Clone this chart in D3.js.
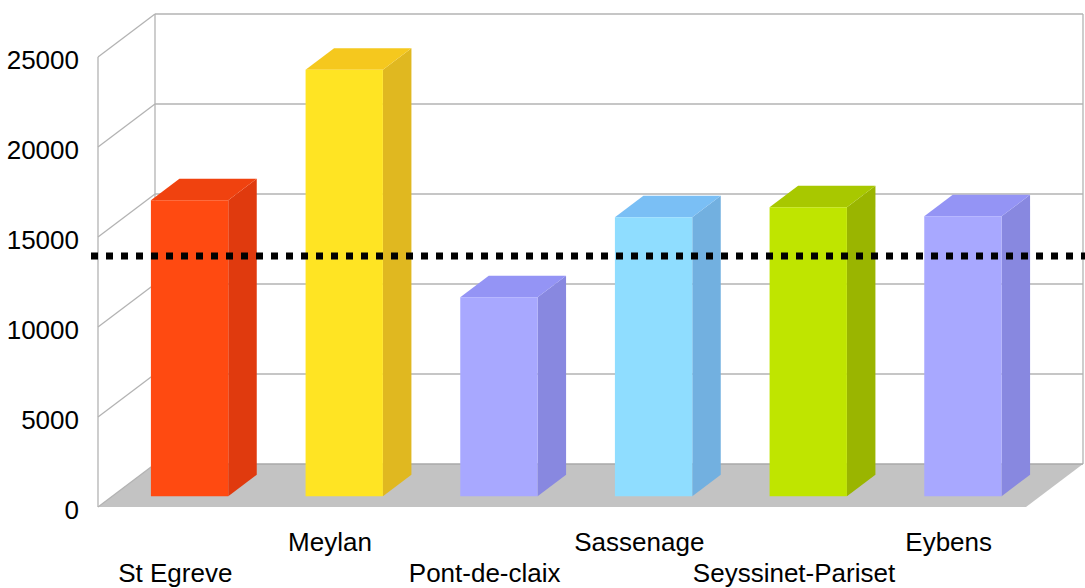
<!DOCTYPE html>
<html>
<head>
<meta charset="utf-8">
<script src="https://cdn.jsdelivr.net/npm/d3@7"></script>
<style>
  html, body { margin: 0; padding: 0; background: #fff; }
  svg { display: block; font-family: "Liberation Sans", Arial, sans-serif; }
</style>
</head>
<body>
<svg id="chart" width="1085" height="588"></svg>
<script>
// Population by commune, with a reference level drawn as a dotted line
const categories = ["St Egreve", "Meylan", "Pont-de-claix", "Sassenage", "Seyssinet-Pariset", "Eybens"];
const values = [16450, 23700, 11050, 15500, 16050, 15550];
const referenceValue = 13350;
const yTicks = [0, 5000, 10000, 15000, 20000, 25000];

// front / side / top face colours per bar
const frontColors = ["#FF4A11", "#FFE423", "#A8A8FF", "#8FDDFF", "#BFE500", "#A8A8FF"];
const sideColors  = ["#E03A0E", "#E0B820", "#8888E0", "#72B0E0", "#9AB500", "#8888E0"];
const topColors   = ["#F0420F", "#F5C81E", "#9494F5", "#7ABFF5", "#A8C800", "#9494F5"];

const svg = d3.select("#chart");

// 3D box geometry: front plane of the floor and its depth offset
const frontLeft = 98, frontRight = 1026, floorY = 507;
const depthX = 57, depthY = 43;

const x = d3.scaleBand().domain(categories).range([frontLeft, frontRight])
  .paddingInner(0.5).paddingOuter(0.25);
const xSlot = d3.scaleBand().domain(categories).range([frontLeft, frontRight]);
const y = d3.scaleLinear().domain([0, 25000]).range([floorY, floorY - 450]);

// project a point (screen x at front, value, depth 0..1)
const P = (px, v, d) => [px + d * depthX, y(v) - d * depthY];
const pts = arr => arr.map(p => p.join(",")).join(" ");

const gridColor = "#B3B3B3";

// floor
svg.append("polygon")
  .attr("points", pts([P(frontLeft, 0, 0), P(frontRight, 0, 0), P(frontRight, 0, 1), P(frontLeft, 0, 1)]))
  .attr("fill", "#C3C3C3");

// back wall gridlines and left wall diagonals
const grid = svg.append("g").attr("fill", "none").attr("stroke", gridColor).attr("stroke-width", 1.3);
yTicks.forEach(t => {
  if (t > 0) {
    const a = P(frontLeft, t, 1), b = P(frontRight, t, 1);
    grid.append("line").attr("x1", a[0]).attr("y1", a[1]).attr("x2", b[0]).attr("y2", b[1]);
  }
  const c = P(frontLeft, t, 0), d = P(frontLeft, t, 1);
  grid.append("line").attr("x1", c[0]).attr("y1", c[1]).attr("x2", d[0]).attr("y2", d[1]);
});
// wall verticals
[[frontLeft, 0], [frontLeft, 1], [frontRight, 1]].forEach(([px, d]) => {
  const a = P(px, 0, d), b = P(px, 25000, d);
  grid.append("line").attr("x1", a[0]).attr("y1", a[1]).attr("x2", b[0]).attr("y2", b[1]);
});
// back wall bottom edge
{
  const a = P(frontLeft, 0, 1), b = P(frontRight, 0, 1);
  svg.append("line").attr("x1", a[0]).attr("y1", a[1]).attr("x2", b[0]).attr("y2", b[1])
    .attr("stroke", "#A8A8A8").attr("stroke-width", 1.5);
}

// bars as 3D boxes occupying the middle half of the depth
const d0 = 0.25, d1 = 0.75;
const bars = svg.append("g");
categories.forEach((c, i) => {
  const v = values[i];
  const xl = x(c), xr = x(c) + x.bandwidth();
  const g = bars.append("g");
  g.append("polygon")
    .attr("points", pts([P(xr, 0, d0), P(xr, 0, d1), P(xr, v, d1), P(xr, v, d0)]))
    .attr("fill", sideColors[i]);
  g.append("polygon")
    .attr("points", pts([P(xl, v, d0), P(xr, v, d0), P(xr, v, d1), P(xl, v, d1)]))
    .attr("fill", topColors[i]);
  g.append("polygon")
    .attr("points", pts([P(xl, 0, d0), P(xr, 0, d0), P(xr, v, d0), P(xl, v, d0)]))
    .attr("fill", frontColors[i]);
});

// reference level (dotted)
{
  const yRef = P(0, referenceValue, d0)[1];
  svg.append("line")
    .attr("x1", 91).attr("x2", 1085)
    .attr("y1", yRef).attr("y2", yRef)
    .attr("stroke", "#000").attr("stroke-width", 7)
    .attr("stroke-dasharray", "7 8");
}

// y axis labels
svg.append("g").selectAll("text").data(yTicks).join("text")
  .attr("x", 79).attr("y", t => y(t) + 12)
  .attr("text-anchor", "end")
  .attr("font-size", 26)
  .attr("fill", "#000")
  .text(t => t);

// category labels, staggered on two rows
svg.append("g").selectAll("text").data(categories).join("text")
  .attr("x", c => xSlot(c) + xSlot.bandwidth() / 2)
  .attr("y", (c, i) => i % 2 === 0 ? 582 : 551)
  .attr("text-anchor", "middle")
  .attr("font-size", 26)
  .attr("fill", "#000")
  .text(c => c);
</script>
</body>
</html>
